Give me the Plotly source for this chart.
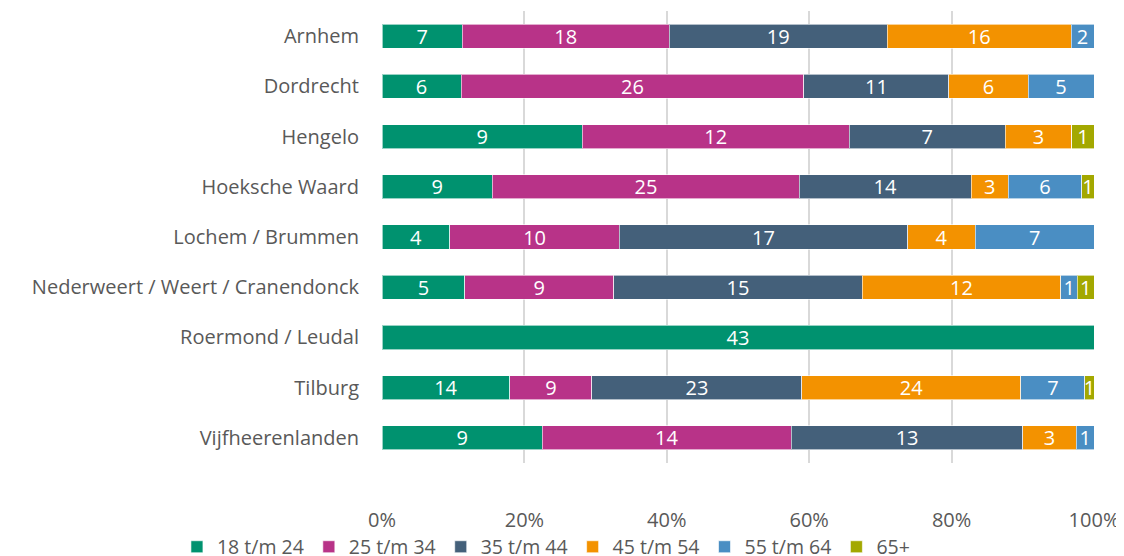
import plotly.graph_objects as go

categories = ["Arnhem", "Dordrecht", "Hengelo", "Hoeksche Waard", "Lochem / Brummen",
              "Nederweert / Weert / Cranendonck", "Roermond / Leudal", "Tilburg", "Vijfheerenlanden"]
series_names = ["18 t/m 24", "25 t/m 34", "35 t/m 44", "45 t/m 54", "55 t/m 64", "65+"]
s18_24 = [7, 6, 9, 9, 4, 5, 43, 14, 9]
s25_34 = [18, 26, 12, 25, 10, 9, 0, 9, 14]
s35_44 = [19, 11, 7, 14, 17, 15, 0, 23, 13]
s45_54 = [16, 6, 3, 3, 4, 12, 0, 24, 3]
s55_64 = [2, 5, 0, 6, 7, 1, 0, 7, 1]
s65 = [0, 0, 1, 1, 0, 1, 0, 1, 0]
series = [s18_24, s25_34, s35_44, s45_54, s55_64, s65]
colors = ["#00926F", "#B83388", "#44607A", "#F39200", "#4A8EC3", "#A3A800"]
tick_vals = [0, 20, 40, 60, 80, 100]
tick_text = ["0%", "20%", "40%", "60%", "80%", "100%"]

FONT = "Open Sans, sans-serif"

fig = go.Figure()
for name, vals, col in zip(series_names, series, colors):
    fig.add_trace(go.Bar(
        y=categories, x=vals, name=name, orientation="h",
        marker=dict(color=col, line=dict(color="rgba(255,255,255,0.6)", width=1)),
        text=[str(v) if v else "" for v in vals],
        textposition="inside", insidetextanchor="middle", textangle=0,
        textfont=dict(color="white", size=20, family=FONT),
        constraintext="none",
        hoverinfo="x+name",
    ))

fig.update_layout(
    barmode="stack", barnorm="percent", bargap=0.52,
    width=1116, height=548,
    margin=dict(l=374, r=30, t=3, b=93, autoexpand=False),
    paper_bgcolor="white", plot_bgcolor="white",
    font=dict(family=FONT, size=20, color="#595959"),
    xaxis=dict(range=[0, 100], tickvals=tick_vals, ticktext=tick_text,
               showgrid=True, gridcolor="#D9D9D9", gridwidth=2,
               zeroline=False, showline=False, ticklabelstandoff=43,
               tickfont=dict(size=20, color="#595959")),
    yaxis=dict(autorange="reversed", showgrid=False, ticklabelstandoff=22,
               tickfont=dict(size=20, color="#595959")),
    legend=dict(orientation="h", x=-0.288, xanchor="left",
                y=-0.186, yanchor="middle",
                bgcolor="rgba(0,0,0,0)",
                font=dict(size=19.5, color="#595959"), traceorder="normal",
                itemwidth=30),
)
fig.write_html("out.html")
